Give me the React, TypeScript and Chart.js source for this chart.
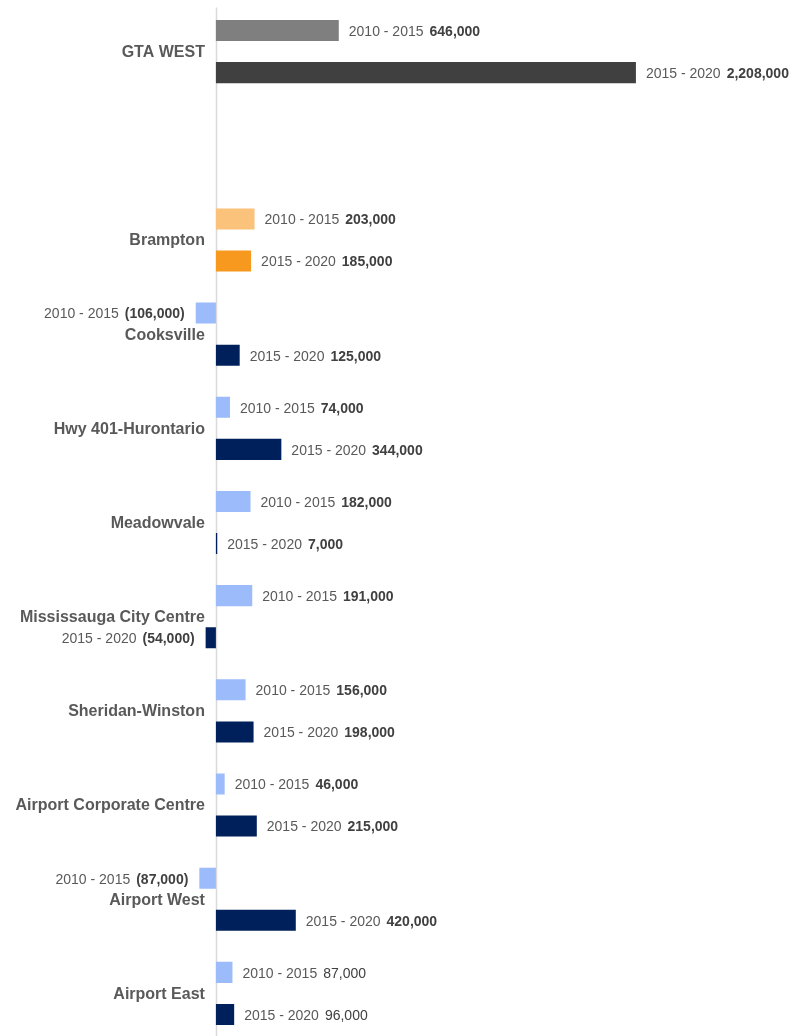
import React, { useEffect, useRef } from "react";
import { Chart, registerables } from "chart.js";

Chart.register(...registerables);

const categories = [
  "GTA WEST",
  "",
  "Brampton",
  "Cooksville",
  "Hwy 401-Hurontario",
  "Meadowvale",
  "Mississauga City Centre",
  "Sheridan-Winston",
  "Airport Corporate Centre",
  "Airport West",
  "Airport East",
];

const periodLabels = ["2010 - 2015", "2015 - 2020"];

const growth2010to2015 = [646000, null, 203000, -106000, 74000, 182000, 191000, 156000, 46000, -87000, 87000];
const growth2015to2020 = [2208000, null, 185000, 125000, 344000, 7000, -54000, 198000, 215000, 420000, 96000];

const plainValueCategories = ["Airport East"];

const colors2010 = ["#7f7f7f", "#7f7f7f", "#fac27a", "#9bbbfb", "#9bbbfb", "#9bbbfb", "#9bbbfb", "#9bbbfb", "#9bbbfb", "#9bbbfb", "#9bbbfb"];
const colors2015 = ["#404040", "#404040", "#f7991e", "#00205b", "#00205b", "#00205b", "#00205b", "#00205b", "#00205b", "#00205b", "#00205b"];

const FONT = "'Liberation Sans', Arial, sans-serif";

function fmt(v: number): string {
  const s = Math.abs(v).toLocaleString("en-US");
  return v < 0 ? `(${s})` : s;
}

const labelPlugin = {
  id: "customLabels",
  beforeDatasetsDraw(chart: any) {
    const ctx = chart.ctx;
    const xs = chart.scales.x;
    const area = chart.chartArea;
    const x0 = Math.round(xs.getPixelForValue(0)) + 0.5;
    ctx.save();
    ctx.strokeStyle = "#d9d9d9";
    ctx.lineWidth = 1.5;
    ctx.beginPath();
    ctx.moveTo(x0, area.top + 3);
    ctx.lineTo(x0, area.bottom + 10);
    ctx.stroke();
    ctx.restore();
  },
  afterDatasetsDraw(chart: any) {
    const ctx = chart.ctx;
    const xs = chart.scales.x;
    const ys = chart.scales.y;
    const x0 = xs.getPixelForValue(0);
    ctx.save();
    ctx.textBaseline = "middle";
    // category labels
    ctx.font = `bold 16px ${FONT}`;
    ctx.fillStyle = "#595959";
    ctx.textAlign = "right";
    categories.forEach((c, j) => {
      if (!c) return;
      ctx.fillText(c, x0 - 11, ys.getPixelForValue(j) + 1);
    });
    // value labels
    chart.data.datasets.forEach((ds: any, i: number) => {
      const meta = chart.getDatasetMeta(i);
      meta.data.forEach((el: any, j: number) => {
        const v = ds.data[j];
        if (v === null || v === undefined) return;
        const prefix = periodLabels[i];
        const val = fmt(v);
        const plain = plainValueCategories.includes(categories[j]);
        const prefixFont = `14px ${FONT}`;
        const valFont = plain ? `14px ${FONT}` : `bold 14px ${FONT}`;
        ctx.font = prefixFont;
        const pw = ctx.measureText(prefix).width;
        ctx.font = valFont;
        const vw = ctx.measureText(val).width;
        const gap = 6;
        const y = el.y + 1.5;
        let start: number;
        if (v >= 0) {
          start = el.x + 10;
        } else {
          start = el.x - 11 - vw - gap - pw;
        }
        ctx.textAlign = "left";
        ctx.font = prefixFont;
        ctx.fillStyle = "#595959";
        ctx.fillText(prefix, start, y);
        ctx.font = valFont;
        ctx.fillStyle = "#404040";
        ctx.fillText(val, start + pw + gap, y);
      });
    });
    ctx.restore();
  },
};

export default function App() {
  const ref = useRef<HTMLCanvasElement | null>(null);
  useEffect(() => {
    if (!ref.current) return;
    const chart = new Chart(ref.current, {
      type: "bar",
      data: {
        labels: categories,
        datasets: [
          {
            label: periodLabels[0],
            data: growth2010to2015 as any,
            backgroundColor: colors2010,
            barPercentage: 0.5,
            categoryPercentage: 0.894,
          },
          {
            label: periodLabels[1],
            data: growth2015to2020 as any,
            backgroundColor: colors2015,
            barPercentage: 0.5,
            categoryPercentage: 0.894,
          },
        ],
      },
      options: {
        indexAxis: "y",
        animation: false,
        responsive: false,
        layout: { padding: { top: 4.5, bottom: 1.5, left: 0, right: 0 } },
        plugins: {
          legend: { display: false },
          tooltip: { enabled: false },
        },
        scales: {
          x: {
            display: false,
            min: -1135000,
            max: 3018000,
          },
          y: {
            display: false,
          },
        },
      },
      plugins: [labelPlugin],
    });
    return () => chart.destroy();
  }, []);
  return (
    <div style={{ position: "fixed", left: 0, top: 0, width: 790, height: 1036, overflow: "hidden", background: "#fff" }}>
      <canvas ref={ref} width={790} height={1042} />
    </div>
  );
}
